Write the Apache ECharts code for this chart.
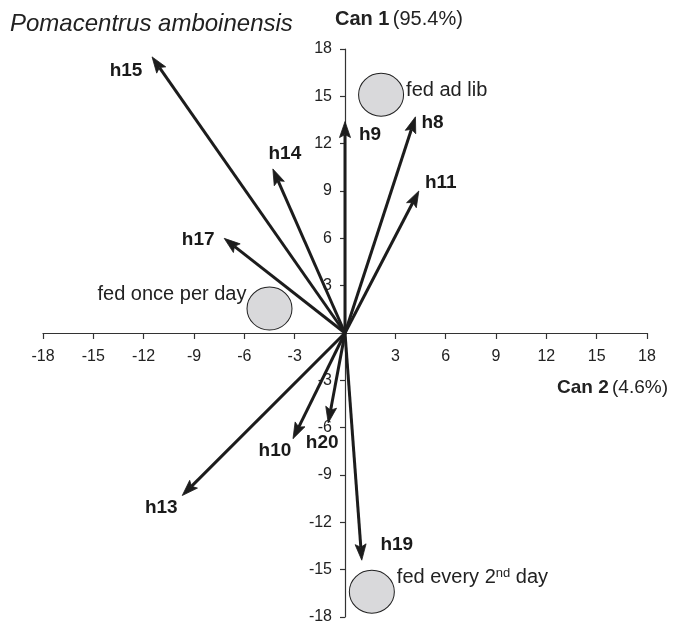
<!DOCTYPE html>
<html>
<head>
<meta charset="utf-8">
<script src="https://cdn.jsdelivr.net/npm/echarts@6/dist/echarts.min.js"></script>
<style>
html,body{margin:0;padding:0;background:#fff;}
#chart{width:674px;height:625px;}
</style>
</head>
<body>
<div id="chart"></div>
<script>
// ---- data ----
const vectorNames = ['h8', 'h9', 'h10', 'h11', 'h13', 'h14', 'h15', 'h17', 'h19', 'h20'];
const vectorCan2  = [4.2, 0, -3.1, 4.4, -9.7, -4.3, -11.5, -7.2, 1.0, -1.0];
const vectorCan1  = [13.7, 13.4, -6.7, 9.0, -10.3, 10.4, 17.5, 6.0, -14.4, -5.7];

const groupNames = ['fed ad lib', 'fed once per day', 'fed every 2nd day'];
const groupCan2  = [2.15, -4.5, 1.6];
const groupCan1  = [15.1, 1.55, -16.4];

const axisTicks = [-18, -15, -12, -9, -6, -3, 0, 3, 6, 9, 12, 15, 18];

const titleText = 'Pomacentrus amboinensis';
const can1Name = 'Can 1';
const can1Pct = '(95.4%)';
const can2Name = 'Can 2';
const can2Pct = '(4.6%)';

// ---- styles (label offsets in px, relative to arrow tips) ----
const labelOffsets = {
  h8: [17, 6], h9: [25, 13], h10: [-18, 12], h11: [22, -8], h13: [-21, 12],
  h14: [12, -15], h15: [-26, 14], h17: [-26, 1], h19: [35, -15], h20: [-6, 20]
};
const groupLabelStyle = [
  { position: 'right', offset: [0, -4] },
  { position: 'left', offset: [2, -14] },
  { position: 'right', offset: [0, -14] }
];

const FONT = '"Liberation Sans", Arial, Helvetica, sans-serif';
const INK = '#1c1c1c';

// layout
const W = 674, H = 625;
const G = { left: 43, right: 27, top: 49, bottom: 8 };
const gridW = W - G.left - G.right, gridH = H - G.top - G.bottom;

const chart = echarts.init(document.getElementById('chart'), null, { renderer: 'canvas' });

const vectorData = vectorNames.map((n, i) => [vectorCan2[i], vectorCan1[i], n]);
const groupData = groupNames.map((n, i) => ({
  value: [groupCan2[i], groupCan1[i]],
  name: n,
  label: groupLabelStyle[i]
}));

const axMin = axisTicks[0], axMax = axisTicks[axisTicks.length - 1];
const axInterval = axisTicks[1] - axisTicks[0];
// fraction of the grid where value 0 sits
const zeroFrac = (0 - axMin) / (axMax - axMin);

function tickFmt(v) { return v === 0 ? '' : String(v); }

const option = {
  backgroundColor: '#fff',
  animation: false,
  grid: { left: G.left, right: G.right, top: G.top, bottom: G.bottom, containLabel: false, outerBoundsMode: 'none' },
  xAxis: {
    type: 'value', min: axMin, max: axMax, interval: axInterval,
    position: 'bottom',
    offset: -gridH * zeroFrac,
    axisLine: { onZero: false, lineStyle: { color: '#333', width: 1.2 } },
    axisTick: { show: true, length: 6, lineStyle: { color: '#333', width: 1.2 } },
    axisLabel: { formatter: tickFmt, margin: 16, color: '#222', fontSize: 16, fontFamily: FONT, showMinLabel: true, showMaxLabel: true },
    splitLine: { show: false }
  },
  yAxis: {
    type: 'value', min: axMin, max: axMax, interval: axInterval,
    position: 'left',
    offset: -gridW * zeroFrac,
    axisLine: { onZero: false, lineStyle: { color: '#333', width: 1.2 } },
    axisTick: { show: true, length: 5, lineStyle: { color: '#333', width: 1.2 } },
    axisLabel: { formatter: tickFmt, margin: 13, color: '#222', fontSize: 16, fontFamily: FONT, showMinLabel: true, showMaxLabel: true },
    splitLine: { show: false }
  },
  graphic: [
    { type: 'text', left: 10, top: 12,
      style: { text: titleText, font: 'italic 24px ' + FONT, fill: '#222' } },
    { type: 'text', left: 335, top: 9,
      style: {
        text: '{b|' + can1Name + '} {n|' + can1Pct + '}',
        rich: {
          b: { font: 'bold 20px ' + FONT, fill: '#222' },
          n: { font: '20px ' + FONT, fill: '#222' }
        }
      } },
    { type: 'text', right: 6, top: 378,
      style: {
        text: '{b|' + can2Name + '} {n|' + can2Pct + '}',
        rich: {
          b: { font: 'bold 19px ' + FONT, fill: '#222' },
          n: { font: '19px ' + FONT, fill: '#222' }
        }
      } }
  ],
  series: [
    {
      type: 'scatter',
      data: groupData,
      symbol: 'circle',
      symbolSize: [45, 43],
      z: 2,
      itemStyle: { color: '#d9d9db', borderColor: '#222', borderWidth: 1, opacity: 1 },
      label: {
        show: true,
        distance: 2,
        color: '#222',
        fontSize: 20,
        fontFamily: FONT,
        formatter: function (p) {
          if (p.name === 'fed every 2nd day') return '{t|fed every 2}{s|nd}{t| day}';
          return '{t|' + p.name + '}';
        },
        rich: {
          t: { fontSize: 20, fontFamily: FONT, color: '#222' },
          s: { fontSize: 13, fontFamily: FONT, color: '#222', verticalAlign: 'top', padding: [0, 0, 9, 0] }
        }
      },
      emphasis: { disabled: true },
      silent: true
    },
    {
      type: 'custom',
      coordinateSystem: 'cartesian2d',
      data: vectorData,
      encode: { x: 0, y: 1 },
      z: 5,
      clip: false,
      silent: true,
      renderItem: function (params, api) {
        const o = api.coord([0, 0]);
        const t = api.coord([api.value(0), api.value(1)]);
        const name = vectorNames[params.dataIndex];
        const dx = t[0] - o[0], dy = t[1] - o[1];
        const L = Math.sqrt(dx * dx + dy * dy);
        const ux = dx / L, uy = dy / L;
        const px = -uy, py = ux;
        const headLen = 16, headW = 5.5;
        const bx = t[0] - ux * headLen, by = t[1] - uy * headLen;
        const lx = t[0] - ux * (headLen - 3), ly = t[1] - uy * (headLen - 3);
        const off = labelOffsets[name] || [0, 0];
        return {
          type: 'group',
          children: [
            { type: 'line',
              shape: { x1: o[0], y1: o[1], x2: lx, y2: ly },
              style: { stroke: INK, lineWidth: 3, lineCap: 'butt' } },
            { type: 'polygon',
              shape: { points: [
                [t[0], t[1]],
                [bx + px * headW, by + py * headW],
                [t[0] - ux * (headLen - 3), t[1] - uy * (headLen - 3)],
                [bx - px * headW, by - py * headW]
              ] },
              style: { fill: INK, stroke: INK, lineWidth: 0.8, lineJoin: 'miter' } },
            { type: 'text',
              x: t[0] + off[0], y: t[1] + off[1],
              style: { text: name, font: 'bold 19px ' + FONT, fill: '#1a1a1a',
                       align: 'center', verticalAlign: 'middle' } }
          ]
        };
      }
    }
  ]
};

chart.setOption(option);
</script>
</body>
</html>
